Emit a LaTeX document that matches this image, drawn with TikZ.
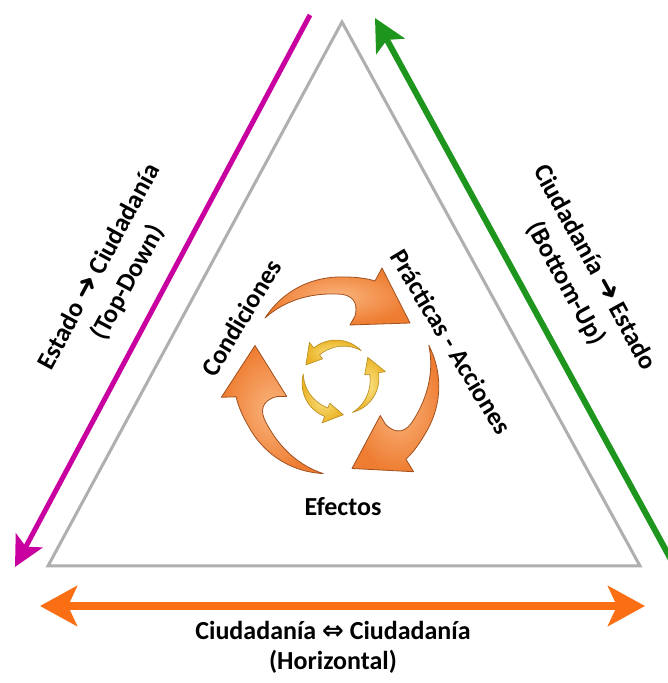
\documentclass[tikz,border=0pt]{standalone}
\usepackage{fontspec}
\setmainfont{Carlito}
\newfontfamily\symfont{DejaVu Sans}
\usetikzlibrary{arrows.meta}

\definecolor{tdmagenta}{RGB}{200,0,160}
\definecolor{bugreen}{RGB}{30,150,30}
\definecolor{horange}{RGB}{250,110,20}
\definecolor{trigray}{RGB}{175,175,175}
\definecolor{cyclelight}{RGB}{250,180,125}
\definecolor{cycledark}{RGB}{238,125,50}
\definecolor{cycleedge}{RGB}{160,80,30}
\definecolor{innerlight}{RGB}{250,225,130}
\definecolor{innerdark}{RGB}{235,180,40}
\definecolor{inneredge}{RGB}{180,140,30}

\newcommand{\arw}{{\symfont\bfseries\fontsize{29}{29}\selectfont ➜}}
\newcommand{\dbl}{{\symfont ⇔}}

\begin{document}
\begin{tikzpicture}[x=1pt,y=1pt,
  lbl/.style={font=\bfseries\fontsize{26}{33}\selectfont, align=center, inner sep=0pt},
  cyclearrow/.style={inner color=cyclelight, outer color=cycledark, draw=cycleedge, line width=0.8pt, line join=round},
  innerarrow/.style={inner color=innerlight, outer color=innerdark, draw=inneredge, line width=0.6pt, line join=round}]
\fill[white] (0,0) rectangle (667,683);
\useasboundingbox (0,0) rectangle (667,683);
% triangle
\coordinate (apex) at (342,661);
\coordinate (bl) at (48,117);
\coordinate (br) at (640,117);
\draw[trigray, line width=3pt] (apex) -- (br) -- (bl) -- cycle;
% flows along the sides
\coordinate (tdStart) at (310,668);
\coordinate (tdEnd) at (15,116);
\coordinate (buStart) at (680,107);
\coordinate (buEnd) at (375,665);
\coordinate (hzLeft) at (40,77);
\coordinate (hzRight) at (645,77);
\draw[tdmagenta, line width=5pt, -{Stealth[length=30pt,width=30pt,inset=7pt]}] (tdStart) -- (tdEnd);
\draw[bugreen, line width=6pt, -{Stealth[length=32pt,width=32pt,inset=7pt]}] (buStart) -- (buEnd);
\draw[horange, line width=8pt, {Stealth[length=37pt,width=40pt,inset=9pt]}-{Stealth[length=37pt,width=40pt,inset=9pt]}] (hzLeft) -- (hzRight);
% cycle in the middle
\begin{scope}[shift={(339,304)}]
\foreach \r in {0,-120,-240}
  \shadedraw[cyclearrow, rotate=\r] (-74,61) .. controls (-55,90) and (-25,103) .. (5,102)
    .. controls (20,102) and (30,100) .. (36,98) -- (43,111) -- (71,56) -- (11,54) -- (16,63)
    .. controls (20,78) and (12,85) .. (-2,85) .. controls (-30,86) and (-55,78) .. cycle;
\foreach \t in {37,157,277} {
  \pgfmathsetmacro\ta{\t-105}
  \pgfmathsetmacro\tb{\t-28}
  \shadedraw[innerarrow] plot[domain=\ta:\tb, samples=20] (\x:{36+4*sin(90*(\x-(\ta))/77)})
    -- (\tb:47) -- (\t:36) -- (\tb:26)
    -- plot[domain=\tb:\ta, samples=20] (\x:{36-5*sin(90*(\x-(\ta))/77)}) -- cycle;
}
\end{scope}
% labels
\node[lbl, rotate=61.6] (topdown) at (114,408) {Estado \arw{} Ciudadanía\\(Top-Down)};
\node[lbl, rotate=-61.3] (bottomup) at (580,407) {Ciudadanía \arw{} Estado\\(Bottom-Up)};
\node[lbl, font=\bfseries\fontsize{26}{30}\selectfont] (horiz) at (333,36) {Ciudadanía \dbl{} Ciudadanía\\(Horizontal)};
\node[lbl, rotate=59] (cond) at (241,365) {Condiciones};
\node[lbl, rotate=-59] (pract) at (451,341) {Prácticas - Acciones};
\node[lbl] (efect) at (343,176) {Efectos};
\end{tikzpicture}
\end{document}
